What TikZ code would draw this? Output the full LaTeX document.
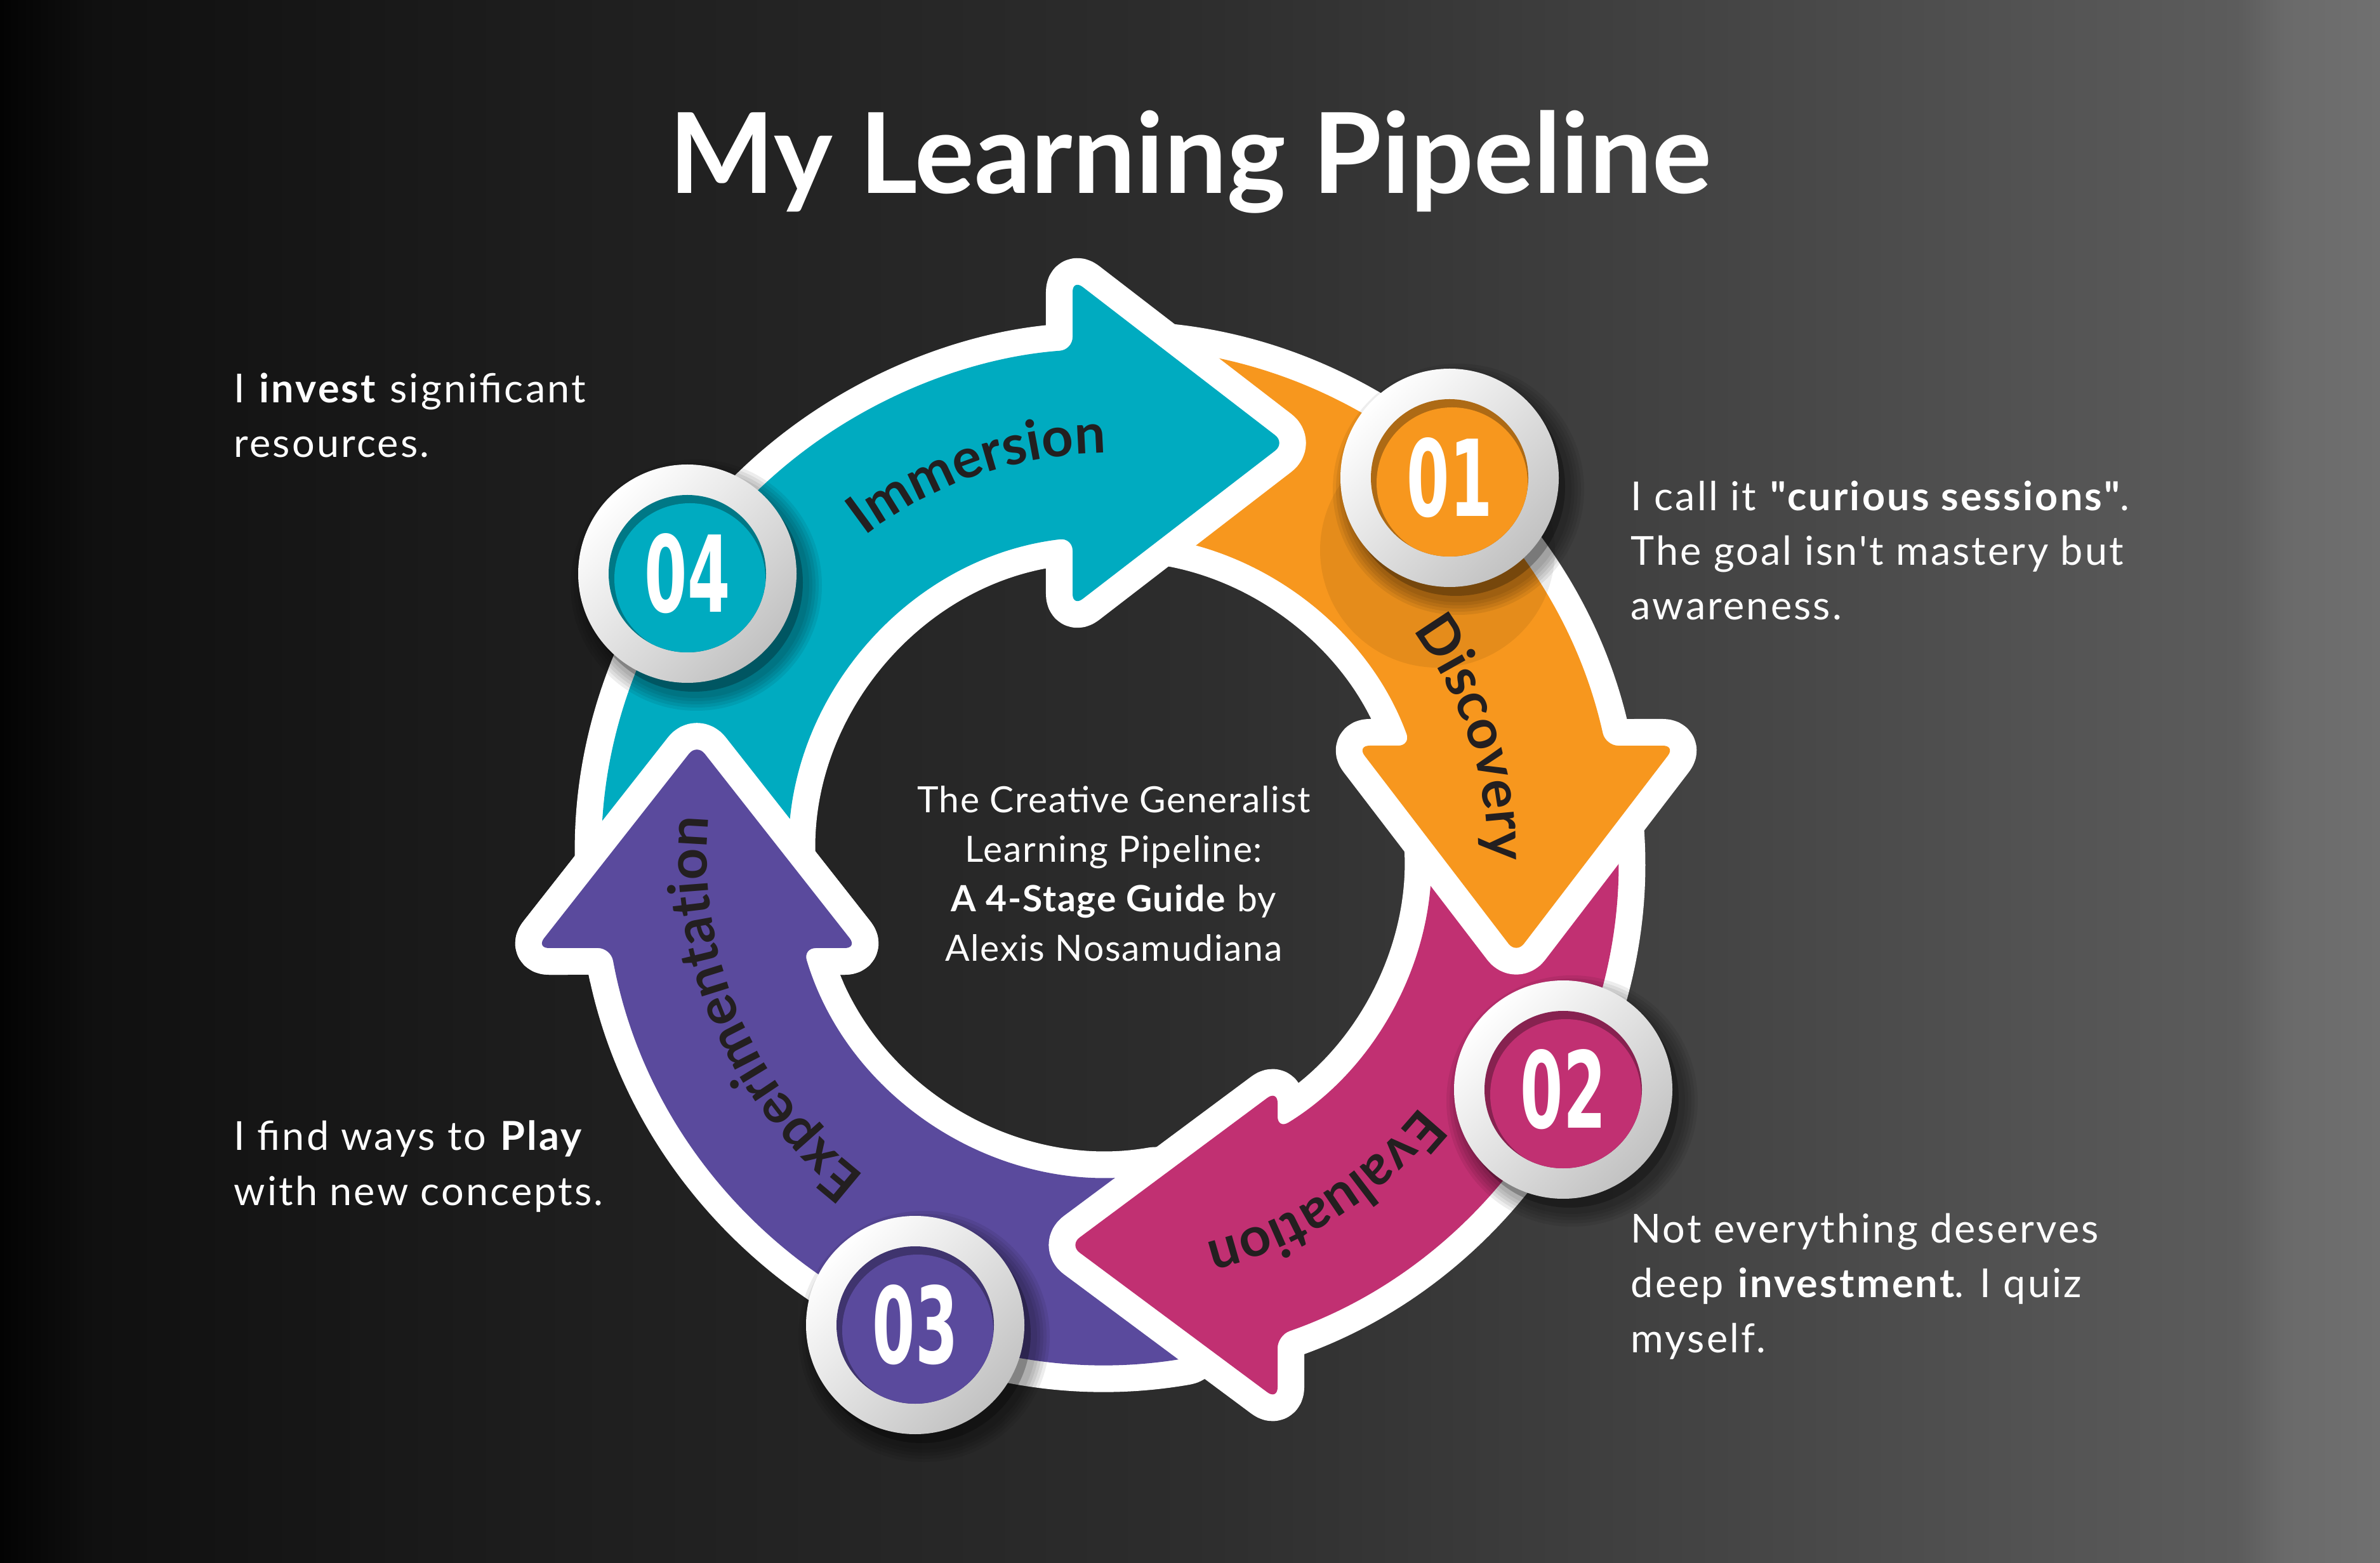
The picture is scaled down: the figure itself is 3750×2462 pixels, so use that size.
\documentclass[tikz,border=0pt]{standalone}
\usepackage{fontspec}
\setmainfont{Lato}[Ligatures=TeXOff]
\newfontfamily\numfont{DejaVu Sans}
\usepackage{graphicx}
\usetikzlibrary{decorations.text,calc}
\definecolor{cteal}{RGB}{0,171,192}
\definecolor{corange}{RGB}{247,151,30}
\definecolor{cmag}{RGB}{193,48,114}
\definecolor{cpurp}{RGB}{90,74,157}
\definecolor{clab}{RGB}{35,31,32}
\definecolor{bga}{RGB}{3,3,3}
\definecolor{bgb}{RGB}{16,16,16}
\definecolor{bgc}{RGB}{30,30,30}
\definecolor{bgd}{RGB}{45,45,45}
\definecolor{bge}{RGB}{70,70,70}
\definecolor{bgf}{RGB}{92,92,92}
\definecolor{bgg}{RGB}{106,106,106}
\definecolor{bgh}{RGB}{112,112,112}
\pgfdeclarehorizontalshading{bgsh}{100bp}{color(0bp)=(bga); color(25bp)=(bga); color(27bp)=(bgb); color(37bp)=(bgc); color(50bp)=(bgd); color(62bp)=(bge); color(72bp)=(bgf); color(73bp)=(bgg); color(75bp)=(bgh); color(100bp)=(bgh)}
\newcommand\labfont{\fontsize{24.7pt}{26pt}\selectfont\bfseries}
\tikzset{
  arrowpath/.style={rounded corners=0.2cm, fill=#1, preaction={draw=white, line width=0.84cm, line join=round}},
  labelpath/.style={decorate, decoration={text along path, text align=center, text color=clab, text={|\labfont|#1}}},
  bodytext/.style={text=white, align=left, inner sep=0pt, font=\fontsize{17.9pt}{24.5pt}\selectfont\addfontfeatures{LetterSpace=5}},
  centertext/.style={text=white, align=center, inner sep=0pt, font=\fontsize{16.2pt}{22.2pt}\selectfont\addfontfeatures{LetterSpace=3}},
  titletext/.style={text=white, inner sep=0pt, font=\fontsize{50pt}{52pt}\selectfont\bfseries},
  numtext/.style={text=white, inner sep=0pt, font=\numfont\bfseries\fontsize{47.5pt}{48pt}\selectfont}
}
\newcommand\stagedisk[4]{%
  \foreach \k in {0,...,4}{\fill[black,opacity=0.07] ($(#2)+(14,-18)$) circle ({178+5*\k});}
  \fill[black,opacity=0.25] ($(#2)+(10,-14)$) circle (172);
  \shade[top color=white, bottom color=black!24, shading angle=45] (#2) circle (172);
  \fill[#3!70!black] (#2) circle (124);
  \begin{scope}\clip (#2) circle (124);\fill[#3] ($(#2)+(4,-8)$) circle (119);\end{scope}
  \node[numtext] (#1) at (#2) {\scalebox{0.58}[1]{#4}};
}
\begin{document}
\begin{tikzpicture}[x=0.01cm, y=0.01cm]
\useasboundingbox (0,0) rectangle (3750,2462);
\shade[shading=bgsh] (0,0) rectangle (3750,2462);

\begin{scope}[shift={(1749,1113)}]
  % purple (Experimentation)
  \path[arrowpath=cpurp] (-80:800) arc[start angle=-80, end angle=-169.56, radius=800]
     -- (-904,-145) -- (-651,177) -- (-398,-145) -- (-483.7,-145)
     arc[start angle=-163.31, end angle=-80, radius=505] -- cycle;
  % magenta (Evaluation)
  \path[arrowpath=cmag] (5:800) arc[start angle=5, end angle=-70.73, radius=800]
     -- (264,-857) -- (-64,-613) -- (264,-369) -- (264,-430.4)
     arc[start angle=-58.48, end angle=5, radius=505] -- cycle;
  % orange (Discovery)
  \path[arrowpath=corange] (92:800) arc[start angle=92, end angle=12.56, radius=800]
     -- (891,174) -- (640,-154) -- (389,174) -- (474.0,174)
     arc[start angle=20.16, end angle=92, radius=505] -- cycle;
  % teal (Immersion)
  \path[arrowpath=cteal] (185:800) arc[start angle=185, end angle=94.23, radius=800]
     -- (-59,909) -- (276,651) -- (-59,393) -- (-59,501.5)
     arc[start angle=96.71, end angle=185, radius=505] -- cycle;
  % purple head again, over the teal tail
  \begin{scope}
    \clip (-1000,-200) rectangle (-300,280);
    \path[arrowpath=cpurp] (-80:800) arc[start angle=-80, end angle=-169.56, radius=800]
       -- (-904,-145) -- (-651,177) -- (-398,-145) -- (-483.7,-145)
       arc[start angle=-163.31, end angle=-80, radius=505] -- cycle;
  \end{scope}

  % soft shadow under 01
  \fill[black,opacity=0.07] (516,482) circle (185);

  % labels along the ring
  \path[labelpath=Immersion] (149:635) arc[start angle=149, end angle=69, radius=635];
  \path[labelpath=Discovery] (58:595) arc[start angle=58, end angle=-22, radius=595];
  \path[labelpath=Evaluation] (-17:628) arc[start angle=-17, end angle=-98, radius=628];
  \path[labelpath=Experimentation] (249:635) arc[start angle=249, end angle=158, radius=635];

  % numbered discs
  \stagedisk{n01}{535,596}{corange}{01}
  \stagedisk{n02}{714,-368}{cmag}{02}
  \stagedisk{n03}{-307,-739}{cpurp}{03}
  \stagedisk{n04}{-666,445}{cteal}{04}
\end{scope}

\node[titletext, anchor=base] (title) at (1876,2157) {My Learning Pipeline};

\node[centertext, anchor=base] (guide) at (1755,947)
  {The Creative Generalist\\Learning Pipeline:\\\textbf{A 4-Stage Guide} by\\Alexis Nosamudiana};

\node[bodytext, anchor=base west] (t04) at (368,1741)
  {I \textbf{invest} significant\\resources.};
\node[bodytext, anchor=base west] (t03) at (368,563)
  {I find ways to \textbf{Play}\\with new concepts.};
\node[bodytext, anchor=base west] (t01) at (2569,1485)
  {I call it \textbf{"curious sessions"}.\\The goal isn't mastery but\\awareness.};
\node[bodytext, anchor=base west] (t02) at (2569,331)
  {Not everything deserves\\deep \textbf{investment}. I quiz\\myself.};
\end{tikzpicture}
\end{document}
